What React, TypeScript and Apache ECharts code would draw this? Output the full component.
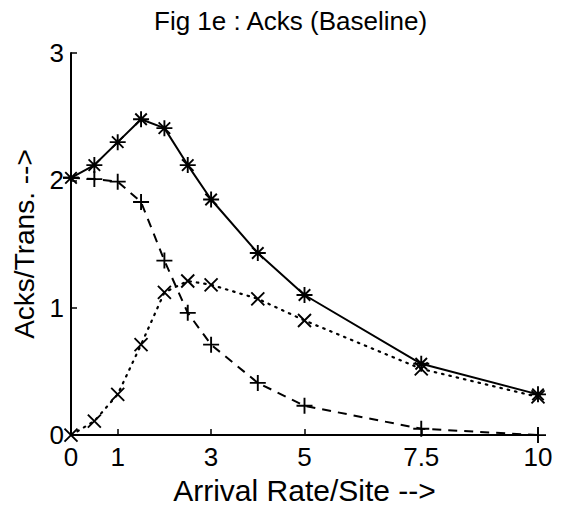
import React, { useEffect, useRef } from "react";
import * as echarts from "echarts";

const rates = [0, 0.5, 1, 1.5, 2, 2.5, 3, 4, 5, 7.5, 10];
const totalAcks = [2.02, 2.12, 2.3, 2.48, 2.41, 2.12, 1.85, 1.43, 1.1, 0.56, 0.32];
const plusAcks = [2.02, 2.01, 1.99, 1.83, 1.37, 0.96, 0.71, 0.41, 0.23, 0.05, 0.0];
const crossAcks = [0, 0.11, 0.32, 0.71, 1.12, 1.21, 1.18, 1.07, 0.9, 0.52, 0.3];
const xTicks = [0, 1, 3, 5, 7.5, 10];
const yTicks = [0, 1, 2, 3];

const STAR = "path://M0,-1L0,1M-1,0L1,0M-0.72,-0.72L0.72,0.72M-0.72,0.72L0.72,-0.72";
const PLUS = "path://M0,-1L0,1M-1,0L1,0";
const CROSS = "path://M-1,-1L1,1M-1,1L1,-1";

const FONT = "Liberation Sans, Arial, Helvetica, sans-serif";

export default function App() {
  const ref = useRef<HTMLDivElement>(null);
  useEffect(() => {
    document.body.style.margin = "0";
    const chart = echarts.init(ref.current!, null, { renderer: "svg" });
    const pts = (ys: number[]) => rates.map((x, i) => [x, ys[i]]);
    const symStyle = { color: "none", borderColor: "#000", borderWidth: 1.9 };
    chart.setOption({
      animation: false,
      backgroundColor: "#fff",
      title: {
        text: "Fig 1e : Acks (Baseline)",
        left: 149,
        top: 3,
        textStyle: { fontFamily: FONT, fontSize: 26, fontWeight: "normal", color: "#000" },
      },
      grid: { left: 71, top: 53, right: 28, bottom: 67, containLabel: false },
      xAxis: {
        type: "value",
        min: 0,
        max: 10,
        name: "Arrival Rate/Site -->",
        nameLocation: "middle",
        nameGap: 30,
        nameTextStyle: { fontFamily: FONT, fontSize: 30, color: "#000" },
        axisLine: { show: true, lineStyle: { color: "#000", width: 2 } },
        axisTick: { show: true, inside: true, length: 6, customValues: xTicks, lineStyle: { color: "#000", width: 1.5 } },
        axisLabel: { customValues: xTicks, fontFamily: FONT, fontSize: 26, color: "#000", margin: 9 },
        splitLine: { show: false },
      },
      yAxis: {
        type: "value",
        min: 0,
        max: 3,
        interval: 1,
        name: "Acks/Trans. -->",
        nameLocation: "middle",
        nameGap: 29,
        nameRotate: 90,
        nameTextStyle: { fontFamily: FONT, fontSize: 28, color: "#000" },
        axisLine: { show: true, lineStyle: { color: "#000", width: 2 } },
        axisTick: { show: true, inside: true, length: 6, customValues: yTicks, lineStyle: { color: "#000", width: 1.5 } },
        axisLabel: { customValues: yTicks, fontFamily: FONT, fontSize: 26, color: "#000", margin: 7 },
        splitLine: { show: false },
      },
      series: [
        {
          type: "line",
          data: pts(totalAcks),
          symbol: STAR,
          symbolSize: 16,
          showAllSymbol: true,
          lineStyle: { color: "#000", width: 2, type: "solid" },
          itemStyle: symStyle,
          z: 3,
        },
        {
          type: "line",
          data: pts(plusAcks),
          symbol: PLUS,
          symbolSize: 16,
          showAllSymbol: true,
          lineStyle: { color: "#000", width: 2, type: [9, 7] },
          itemStyle: symStyle,
          z: 2,
        },
        {
          type: "line",
          data: pts(crossAcks),
          symbol: CROSS,
          symbolSize: 13,
          showAllSymbol: true,
          lineStyle: { color: "#000", width: 2.2, type: [1.5, 6], cap: "round" },
          itemStyle: symStyle,
          z: 2,
        },
      ],
    });
    return () => chart.dispose();
  }, []);
  return <div ref={ref} style={{ position: "fixed", left: 0, top: 0, width: 566, height: 510 }} />;
}
